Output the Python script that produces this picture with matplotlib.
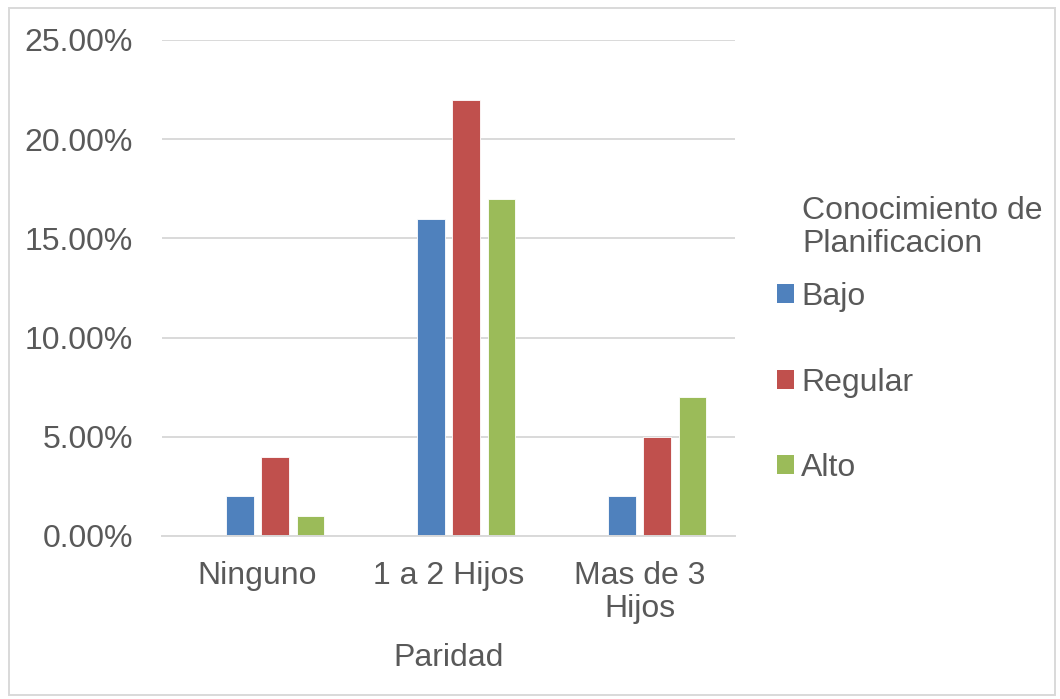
import matplotlib.pyplot as plt
import numpy as np
from matplotlib.patches import Patch, Rectangle
from matplotlib.ticker import PercentFormatter

plt.rcParams["font.family"] = ["Liberation Sans", "DejaVu Sans"]

# Data: share of respondents by parity and planning knowledge (percent).
categories = ["Ninguno", "1 a 2 Hijos", "Mas de 3\nHijos"]
series_names = ["Bajo", "Regular", "Alto"]
bajo = [2, 16, 2]
regular = [4, 22, 5]
alto = [1, 17, 7]
colors = ["#4F81BD", "#C0504D", "#9BBB59"]

TEXT = "#595959"
GRID = "#D9D9D9"
FS = 23

fig = plt.figure(figsize=(10.6, 6.99), dpi=100)
ax = fig.add_axes([0.1528, 0.2332, 0.5406, 0.7096])

x = np.arange(len(categories))
step = 0.1846
width = 0.144
# four slots per group, the first one is left empty
for i, (name, vals, c) in enumerate(zip(series_names, [bajo, regular, alto], colors)):
    offset = (i + 1 - 1.5) * step
    ax.bar(x + offset, np.array(vals) / 100, width=width, color=c,
           edgecolor="white", linewidth=0.6, label=name, zorder=3)

ax.set_xlim(-0.5, 2.5)
ax.set_ylim(0, 0.25)
ax.set_yticks(np.arange(0, 0.26, 0.05))
ax.yaxis.set_major_formatter(PercentFormatter(1.0, decimals=2))
ax.set_xticks(x)
ax.set_xticklabels(categories, linespacing=1.12)

ax.grid(axis="y", color=GRID, linewidth=1.4, zorder=0)
for s in ["top", "right", "left"]:
    ax.spines[s].set_visible(False)
ax.spines["bottom"].set_color(GRID)
ax.spines["bottom"].set_linewidth(1.4)
ax.spines["bottom"].set_zorder(4)

ax.tick_params(axis="y", length=0, pad=21, labelsize=FS, labelcolor=TEXT)
ax.tick_params(axis="x", length=0, pad=18, labelsize=FS, labelcolor=TEXT)
ax.set_xlabel("Paridad", fontsize=FS, color=TEXT, labelpad=14)

# legend on the right with its title set as separate text
fig.text(0.7566, 1 - 196 / 699, "Conocimiento de\nPlanificacion", fontsize=FS,
         color=TEXT, va="top", ha="left", linespacing=1.15)
handles = [Patch(facecolor=c, label=n) for c, n in zip(colors, series_names)]
leg = fig.legend(handles=handles, loc="upper left",
                 bbox_to_anchor=(0.733, 1 - 282 / 699), frameon=False,
                 fontsize=FS, labelcolor=TEXT, handlelength=0.54,
                 handleheight=0.54, handletextpad=0.22, labelspacing=1.74,
                 borderpad=0, borderaxespad=0)

# light frame around the whole chart
fig.patches.append(Rectangle((9 / 1060, 4 / 699), 1046 / 1060, 687 / 699,
                             transform=fig.transFigure, fill=False,
                             edgecolor=GRID, linewidth=1.4))

fig.savefig("out.png", dpi=100)
